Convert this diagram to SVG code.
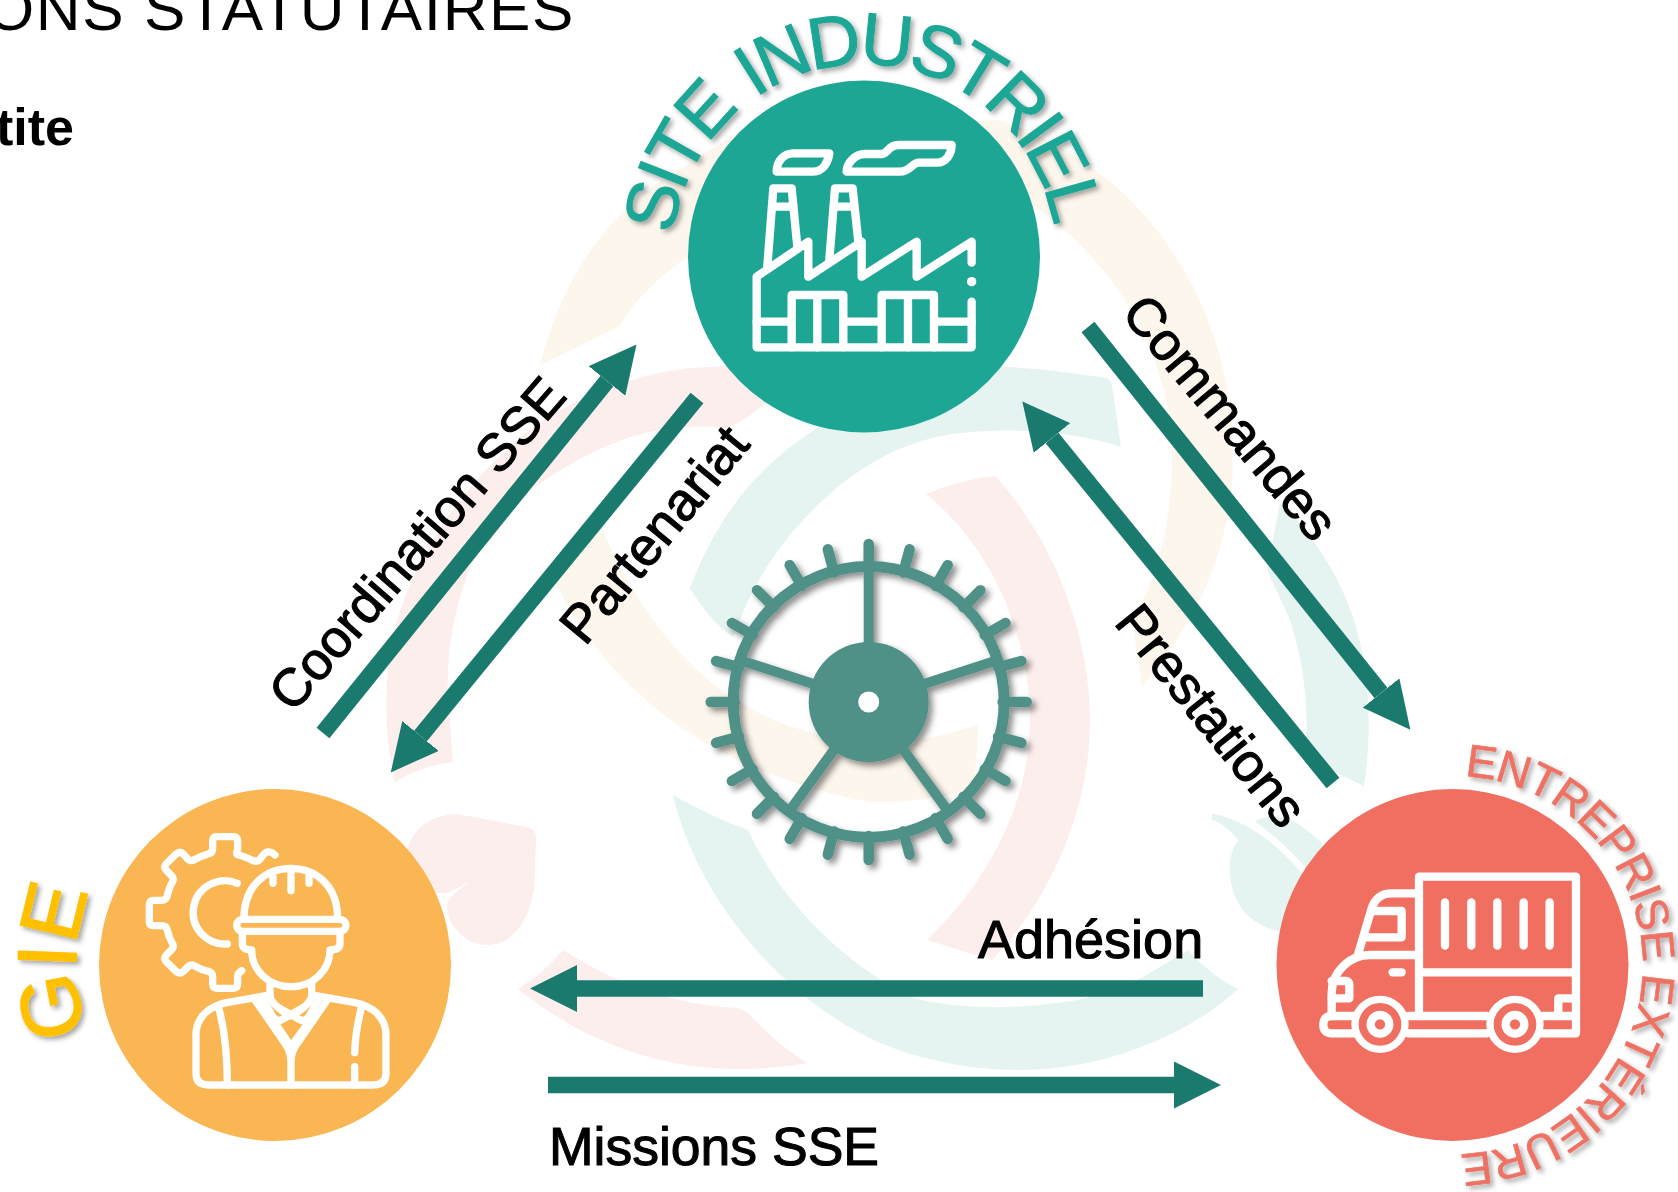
<svg xmlns="http://www.w3.org/2000/svg" width="1678" height="1192" viewBox="0 0 1678 1192">
<style>
text{font-family:"Liberation Sans",Arial,sans-serif}
.lbl{font-size:53.5px;fill:#000;stroke:#000;stroke-width:1.1px}
.cream{fill:#fdf6ec}.pink{fill:#fceeec}.green{fill:#e6f4f1}
.arr{stroke:#1a7a6e;stroke-width:16.5;fill:none;marker-end:url(#head)}
.ico{fill:none;stroke:#fff;stroke-linecap:round;stroke-linejoin:round}
.gearline{stroke:#4f9087;fill:none}
</style>
<defs>
<marker id="head" markerUnits="userSpaceOnUse" markerWidth="47" markerHeight="47" refX="0" refY="23.5" orient="auto"><path d="M0,0L47,23.5L0,47Z" fill="#1a7a6e"/></marker>
<filter id="sh" x="-20%" y="-20%" width="140%" height="140%"><feDropShadow dx="3" dy="3" stdDeviation="2.5" flood-color="#000" flood-opacity=".35"/></filter>
<filter id="gsh" x="-10%" y="-10%" width="125%" height="125%"><feGaussianBlur in="SourceGraphic" stdDeviation=".6" result="b"/><feDropShadow in="b" dx="4" dy="4" stdDeviation="3" flood-color="#000" flood-opacity=".45"/></filter>
<path id="p-site" d="M673.2,234.8A192,192 0 1 1 1053,290"/>
<path id="p-gie" d="M88,1033A199,199 0 0 1 275,766"/>
<path id="p-ent" d="M1464.5,776.4A189,189 0 1 1 1419.7,1151"/>
<line id="tooth" x1="868.7" y1="568" x2="868.7" y2="544" stroke-width="10.5" stroke-linecap="round" class="gearline"/>
</defs>
<rect width="1678" height="1192" fill="#fff"/>
<g id="background">
<path class="cream" d="M540,365C558,295 590,235 650,188L745,128L1000,120C1045,135 1085,160 1120,190C1195,260 1233,355 1233,457C1233,520 1215,575 1188,622Q1165,660 1142,687L1132,620C1158,580 1172,520 1172,457C1172,365 1125,270 1033,205L850,300L688,257C660,275 635,300 620,326Z"/>
<path class="cream" d="M600,525L552,575C600,680 700,770 870,802C905,803 940,798 973,790Q978,755 978,724C925,745 870,745 813,733C720,710 650,640 600,525Z"/>
<path class="pink" d="M395,783C380,720 385,640 407,593C430,530 490,450 560,410C610,385 660,367 713,367L800,360L763,405C745,420 735,425 727,428C650,420 590,445 513,503C470,545 445,620 448,697L453,762C430,765 410,772 395,783Z"/>
<path class="pink" d="M926,494Q960,480 995,476C1050,535 1090,630 1090,720C1090,810 1050,900 992,960L927,940C990,880 1030,800 1030,720C1030,640 995,550 926,494Z"/>
<path class="pink" d="M400,880L408,847Q420,815 457,814L527,827Q536,829 536,838L535,873Q535,890 532,897C527,925 510,945 487,945C465,945 447,925 447,905Q447,897 470,882L447,893L420,893Z"/>
<path class="pink" d="M518,989Q545,972 563,950C610,980 670,1005 738,1008Q745,1010 750,1015C770,1035 785,1050 808,1063Q775,1069 738,1069C650,1069 575,1035 518,989Z"/>
<path class="green" d="M690,588C720,510 760,465 817,428L860,370C910,362 1010,362 1107,378Q1111,380 1112,385L1121,447C1070,430 1010,428 960,433C900,440 850,470 803,520C780,545 760,575 747,603L733,637C715,625 700,605 690,588Z"/>
<path class="green" d="M673,795C700,810 725,822 748,830C785,910 850,965 910,997C965,1012 1030,1008 1077,1000Q1115,992 1143,977L1188,950Q1210,975 1238,989C1195,1030 1110,1070 1020,1070C960,1070 900,1055 860,1033C770,985 695,890 673,795Z"/>
<path class="green" d="M1280,503L1267,570L1290,620C1303,660 1310,710 1305,753L1330,770L1364,786C1372,730 1370,680 1357,630C1345,585 1315,535 1280,503Z"/>
<path class="green" d="M1255,822C1262,815 1285,815 1300,825C1320,840 1330,850 1345,870L1316,880C1296,855 1275,835 1255,822Z"/>
<path class="green" d="M1212,815Q1210,812 1218,815C1250,822 1285,850 1312,885L1300,935L1280,932C1250,925 1232,905 1230,873C1229,860 1232,848 1238,840C1230,830 1220,822 1212,820Z"/>
</g>
<g id="gear" filter="url(#gsh)">
<circle class="gearline" cx="868.7" cy="702" r="135.5" stroke-width="11"/>
<circle cx="868.7" cy="702" r="60" fill="#4f9087"/>
<g class="gearline" stroke-width="10">
<path d="M868.7,702V570M868.7,702L994.2,661.2M868.7,702L946.3,808.8M868.7,702L791.1,808.8M868.7,702L743.2,661.2"/>
</g>
<use href="#tooth"/>
<use href="#tooth" transform="rotate(15 868.7 702)"/><use href="#tooth" transform="rotate(30 868.7 702)"/><use href="#tooth" transform="rotate(45 868.7 702)"/><use href="#tooth" transform="rotate(60 868.7 702)"/><use href="#tooth" transform="rotate(75 868.7 702)"/><use href="#tooth" transform="rotate(90 868.7 702)"/><use href="#tooth" transform="rotate(105 868.7 702)"/><use href="#tooth" transform="rotate(120 868.7 702)"/><use href="#tooth" transform="rotate(135 868.7 702)"/><use href="#tooth" transform="rotate(150 868.7 702)"/><use href="#tooth" transform="rotate(165 868.7 702)"/><use href="#tooth" transform="rotate(180 868.7 702)"/><use href="#tooth" transform="rotate(195 868.7 702)"/><use href="#tooth" transform="rotate(210 868.7 702)"/><use href="#tooth" transform="rotate(225 868.7 702)"/><use href="#tooth" transform="rotate(240 868.7 702)"/><use href="#tooth" transform="rotate(255 868.7 702)"/><use href="#tooth" transform="rotate(270 868.7 702)"/><use href="#tooth" transform="rotate(285 868.7 702)"/><use href="#tooth" transform="rotate(300 868.7 702)"/><use href="#tooth" transform="rotate(315 868.7 702)"/><use href="#tooth" transform="rotate(330 868.7 702)"/><use href="#tooth" transform="rotate(345 868.7 702)"/>
<circle cx="868.7" cy="702" r="10.5" fill="#fff"/>
</g>
<g id="connectors">
<line class="arr" x1="323" y1="733" x2="607" y2="381"/>
<line class="arr" x1="697" y1="398" x2="420.5" y2="736"/>
<line class="arr" x1="1088" y1="327" x2="1381" y2="693"/>
<line class="arr" x1="1333" y1="783" x2="1052" y2="438"/>
<line class="arr" x1="1203" y1="988.5" x2="577" y2="988.5"/>
<line class="arr" x1="548" y1="1085" x2="1174" y2="1085"/>
<text class="lbl" style="font-size:52.8px" transform="translate(293,714) rotate(-49)">Coordination SSE</text>
<text class="lbl" transform="translate(585,647) rotate(-50.5)">Partenariat</text>
<text class="lbl" style="font-size:53px" transform="translate(1120,314) rotate(50)">Commandes</text>
<text class="lbl" transform="translate(1113,623) rotate(51)">Prestations</text>
<text class="lbl" x="978" y="958" style="font-size:54px">Adhésion</text>
<text class="lbl" x="549" y="1165">Missions SSE</text>
</g>
<g id="header">
<text x="-14" y="30" font-size="62" letter-spacing="1.6">ONS STATUTAIRES</text>
<text x="-4" y="145" font-size="52" font-weight="700">tite</text>
</g>
<g id="node-site">
<circle cx="864" cy="256.5" r="176" fill="#1ea695"/>
<text font-size="73" fill="#1ea695" stroke="#1ea695" stroke-width="1" letter-spacing="-5.2" word-spacing="8" filter="url(#sh)"><textPath href="#p-site">SITE INDUSTRIEL</textPath></text>
<g class="ico" stroke-width="25" transform="translate(680,70) scale(.3333)">
<path d="M875,578V515L710,620V515L545,620V515L385,620V515L230,620V832H875V695"/>
<path d="M230,755H335M335,832V675H490V832M490,755H605M605,832V675H762V832M762,755H875M412,675V832M684,675V832"/>
<path d="M262,590L280,355H335L352,530M277,410H340M448,570L465,355H518L535,515M462,410H522"/>
<path d="M290,305H400C430,305 445,275 448,250H340C310,250 290,275 290,305Z"/>
<path d="M500,305H660C690,305 695,280 715,278H770C800,278 815,250 815,225H655C625,225 625,250 605,252H555C525,252 500,280 500,305Z"/>
<circle cx="875" cy="635" r="14" fill="#fff" stroke="none"/>
</g>
</g>
<g id="node-gie">
<circle cx="275" cy="965" r="176" fill="#fab652"/>
<text font-size="84" fill="#ffc000" stroke="#ffc000" stroke-width="1.5" filter="url(#sh)"><textPath href="#p-gie">GIE</textPath></text>
<g class="ico" stroke-width="22" transform="translate(90,780) scale(.3333)">
<path d="M555,225C545,215 530,210 520,225L512,235C505,245 495,245 485,240C475,235 460,228 445,225C435,222 443,215 443,205V185Q443,170 430,170H380Q368,170 368,185V205Q368,220 355,222C340,226 325,232 312,240Q302,245 292,236L280,222Q270,212 258,222L228,252Q220,262 230,272L244,286Q253,295 248,305C240,318 235,332 231,350Q228,361 215,361H192Q178,361 178,375V425Q178,437 192,437H215Q228,437 231,448C235,465 240,478 248,492Q253,502 244,510L230,524Q220,534 228,544L258,574Q270,584 280,574L292,562Q302,552 312,557C325,565 340,571 355,574Q368,577 368,592V610Q368,625 380,625H430Q443,625 443,610V590Q443,580 455,572"/>
<path d="M442,310A95,95 0 1 0 412,492"/>
<path d="M462,415C462,320 525,265 603,265C680,265 743,320 743,415"/>
<rect x="440" y="418" width="328" height="36" rx="18"/>
<path d="M603,265V332M549,290V310M657,290V310"/>
<path d="M457,465V490Q457,510 485,510C485,570 535,620 603,620C670,620 720,570 720,510Q750,510 750,490V465"/>
<path d="M540,610V650C545,670 575,695 603,708C630,695 660,670 665,650V610"/>
<path d="M540,645L410,668C360,678 318,710 318,765V880Q318,915 355,915H850Q888,915 888,880V765C888,710 845,678 795,668L665,645"/>
<path d="M385,680C405,750 412,820 412,915M815,680C800,740 795,780 794,818M794,860V915"/>
<path d="M495,660L585,790Q603,815 603,845V915M712,660L622,790Q603,815 603,845"/>
<path d="M520,660L550,712Q560,728 578,718L640,682M685,660L655,712Q645,728 627,718L565,682M560,735L603,800L650,735"/>
</g>
</g>
<g id="node-entreprise">
<circle cx="1452.5" cy="965" r="176" fill="#f06f60"/>
<text font-size="46" fill="#ee7264" stroke="#ee7264" stroke-width=".6" letter-spacing="-1.2" filter="url(#sh)"><textPath href="#p-ent">ENTREPRISE EXTÉRIEURE</textPath></text>
<g class="ico" stroke-width="25" transform="translate(1260,780) scale(.3333)">
<path d="M477,708V290H948V760H840M477,577H948"/>
<path d="M555,367V497M634,367V497M712,367V497M791,367V497M869,367V497"/>
<path d="M477,340H395Q350,340 335,385L295,520"/>
<path d="M477,525H330C270,525 215,575 215,640V708"/>
<path d="M340,393H425V472H312"/>
<path d="M398,577H425"/>
<path d="M215,603H258Q268,603 268,615V655H215"/>
<path d="M285,708H215Q190,708 190,734Q190,760 215,760H285"/>
<path d="M445,708H680M445,760H680M848,708H948M895,708V655H948"/>
<circle cx="360" cy="733" r="75" stroke-width="22"/><circle cx="360" cy="733" r="28"/>
<circle cx="765" cy="733" r="75" stroke-width="22"/><circle cx="765" cy="733" r="28"/>
</g>
</g>
</svg>
